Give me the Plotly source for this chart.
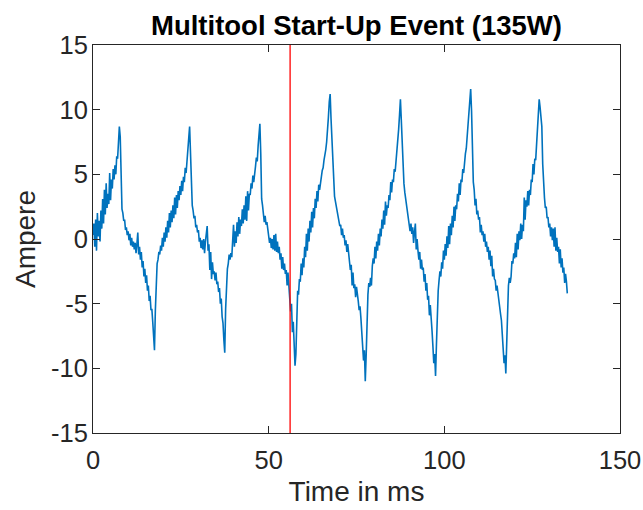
import plotly.graph_objects as go

# Sampled current, 0.25 ms per sample, grouped in 10 ms blocks
step_ms = 0.25
block_0 = [0.3, 1.2, -0.6, 1.5, -0.9, 2.0, 0.2, 1.4, -0.2, 2.2, 0.8, 3.1, 1.2, 3.8, 1.9, 4.3, 2.4, 3.5, 2.7, 5.1,
           3.0, 4.6, 3.9, 5.4, 4.6, 5.7, 5.0, 6.4, 6.2, 7.6, 8.7, 7.9, 4.0, 2.3, 2.0, 1.4, 1.5, 0.7, 0.9, 0.3]
block_10 = [0.6, -0.1, 0.4, -0.5, 0.1, -0.6, -0.2, -0.8, -0.3, -1.1, -0.4, 0.5, -1.2, -0.6, -1.6, -1.0, -2.2, -1.7, -2.9, -2.3,
            -3.4, -2.8, -4.0, -3.6, -4.8, -4.4, -5.5, -5.4, -6.4, -7.3, -8.6, -5.5, -2.4, -1.9, -1.6, -1.0, -1.2, -0.5, -0.9, 0.1]
block_20 = [-0.6, 0.5, -0.2, 0.9, 0.1, 1.4, 0.5, 2.0, 0.9, 2.2, 1.3, 2.6, 1.6, 3.2, 1.9, 3.4, 2.4, 3.7, 3.0, 4.1,
            3.4, 4.5, 3.7, 4.8, 4.4, 5.5, 5.1, 6.3, 6.5, 7.8, 8.7, 6.8, 3.4, 2.6, 2.2, 1.6, 1.8, 0.9, 1.1, 0.5]
block_30 = [0.7, -0.2, 0.1, -0.7, -0.1, -0.8, 0.0, -1.1, -0.2, 0.4, 1.0, -0.9, -0.4, -2.4, -1.0, -3.1, -1.8, -2.7, -2.5, -3.2,
            -2.6, -3.5, -3.3, -4.1, -3.8, -5.0, -4.6, -6.0, -6.5, -7.8, -8.8, -5.4, -2.8, -2.3, -1.9, -1.2, -1.6, -1.1, -1.4, -0.3]
block_40 = [1.1, -0.6, 0.6, -0.3, 1.3, 0.2, 1.7, 0.4, 1.5, 1.0, 2.3, 1.2, 2.6, 1.5, 3.3, 1.4, 3.7, 2.2, 3.5, 3.4,
            4.3, 3.9, 4.9, 4.4, 5.3, 5.6, 6.3, 6.0, 7.2, 8.0, 8.9, 6.6, 3.1, 2.6, 2.0, 1.3, 1.8, 1.1, 1.3, 0.6]
block_50 = [0.4, -0.3, 0.1, -0.7, 0.0, -0.8, 0.3, -0.9, 0.4, -1.0, -0.2, -1.1, -0.6, -1.6, -1.1, -2.3, -1.4, -2.4, -1.9, -2.7,
            -2.4, -3.6, -2.6, -3.8, -4.3, -5.6, -5.0, -7.2, -6.4, -8.6, -9.8, -8.9, -4.9, -4.0, -4.3, -3.1, -3.3, -1.9, -2.8, -1.5]
block_60 = [-2.2, -0.6, -1.4, 0.4, -0.9, 0.8, -0.2, 1.4, 0.5, 2.1, 0.9, 2.4, 1.6, 3.1, 2.4, 3.7, 2.9, 4.2, 3.8, 4.5,
            4.8, 5.3, 5.5, 6.1, 6.4, 6.9, 7.5, 8.3, 9.4, 10.6, 11.2, 9.3, 7.8, 5.2, 4.2, 3.3, 2.9, 2.5, 2.1, 1.6]
block_70 = [1.5, 1.0, 1.1, 0.3, 0.8, 0.1, 0.3, -0.5, -0.1, -1.0, -0.4, -1.2, -1.5, -2.4, -2.0, -3.6, -2.6, -3.8, -3.5, -4.5,
            -3.7, -4.6, -4.8, -5.5, -5.2, -6.1, -7.2, -8.4, -9.4, -8.6, -11.0, -9.0, -5.2, -4.3, -3.4, -3.7, -3.0, -3.6, -2.1, -1.5]
block_80 = [-1.9, -0.6, -1.5, -0.2, -0.9, 0.4, -0.5, 0.8, 0.2, 1.5, 0.8, 2.2, 1.1, 2.9, 1.8, 2.6, 2.4, 3.4, 3.0, 4.4,
            3.6, 4.6, 4.4, 5.4, 5.2, 6.0, 6.3, 7.4, 8.5, 9.6, 10.8, 9.2, 7.1, 5.2, 4.3, 3.6, 3.1, 2.7, 2.5, 1.8]
block_90 = [1.4, 0.6, 1.2, 0.4, 0.9, -0.3, 0.5, 1.2, -0.8, 0.0, -0.9, -1.6, -1.0, -2.3, -1.6, -2.4, -2.2, -3.3, -2.7, -4.0,
            -3.4, -4.7, -4.4, -5.9, -5.1, -6.8, -7.1, -8.3, -9.6, -8.9, -10.6, -8.2, -4.8, -4.0, -3.2, -2.5, -2.9, -1.8, -2.3, -0.9]
block_100 = [-1.6, -0.4, -1.3, 0.2, -0.7, 1.0, -0.4, 1.2, 0.3, 1.8, 0.9, 2.5, 1.4, 2.6, 2.3, 3.5, 2.9, 4.3, 3.4, 4.6,
             4.4, 5.4, 5.1, 6.0, 6.6, 7.0, 7.8, 8.9, 9.8, 10.6, 11.6, 9.9, 5.6, 4.4, 3.8, 2.6, 3.1, 1.9, 2.2, 1.5]
block_110 = [1.7, 0.5, 1.1, 0.3, 0.6, -0.2, 0.4, -0.6, -0.2, -1.0, -0.6, -1.6, -0.9, -2.1, -1.3, -2.9, -2.3, -3.1, -3.2, -4.0,
             -3.6, -4.2, -4.6, -5.7, -5.8, -6.3, -7.2, -8.3, -9.6, -9.0, -10.4, -8.1, -4.3, -3.6, -3.0, -3.4, -2.9, -1.7, -1.9, -1.1]
block_120 = [-1.5, -0.3, -1.4, 0.4, -0.8, 0.6, -0.1, 1.2, 0.0, 1.1, 0.6, 3.2, 1.5, 3.0, 2.5, 3.7, 2.6, 3.8, 3.4, 4.6,
             4.4, 5.8, 5.0, 6.2, 6.1, 7.4, 7.7, 8.9, 10.8, 10.2, 9.4, 8.7, 5.8, 4.0, 3.2, 2.4, 2.5, 1.6, 1.7, 0.9]
block_130 = [1.2, 0.2, 0.9, -0.1, 0.8, -0.6, 0.9, -0.9, 0.1, -1.0, -0.6, -1.9, -0.8, -2.2, -1.5, -2.6, -2.2, -3.4, -2.7, -3.3,
             -4.2]

current_a = (block_0 + block_10 + block_20 + block_30 + block_40 + block_50 + block_60
             + block_70 + block_80 + block_90 + block_100 + block_110 + block_120 + block_130)
time_ms = [i * step_ms for i in range(len(current_a))]

# Start-up event marker
event_ms = 56.1

x_ticks = [0, 50, 100, 150]
x_labels = ["0", "50", "100", "150"]
y_ticks = [-15, -10, -5, 0, 5, 10, 15]
y_labels = ["-15", "-10", "-5", "0", "5", "10", "15"]

font_family = "Liberation Sans, Arial, Helvetica, sans-serif"
axis_color = "#262626"

fig = go.Figure()
fig.add_trace(go.Scatter(
    x=time_ms, y=current_a, mode="lines",
    line=dict(color="#0072BD", width=1.6),
    showlegend=False,
))
fig.add_trace(go.Scatter(
    x=[event_ms, event_ms], y=[y_ticks[0], y_ticks[-1]], mode="lines",
    line=dict(color="#FF0000", width=1.3),
    showlegend=False,
))

axis_common = dict(
    showline=True, linecolor=axis_color, linewidth=1, mirror="ticks",
    ticks="inside", ticklen=7, tickwidth=1, tickcolor=axis_color,
    showgrid=False, zeroline=False, automargin=False,
    tickfont=dict(family=font_family, size=25.5, color=axis_color),
)

fig.update_layout(
    width=643, height=510,
    margin=dict(l=93, r=23, t=45, b=77),
    paper_bgcolor="white", plot_bgcolor="white",
    title=dict(
        text="<b>Multitool Start-Up Event (135W)</b>",
        font=dict(family=font_family, size=27.5, color="black"),
        x=0.5, xref="paper", xanchor="center",
        y=1, yref="paper", yanchor="bottom", pad=dict(b=10),
    ),
    xaxis=dict(
        range=[0, 150], tickvals=x_ticks, ticktext=x_labels, ticklabelstandoff=4,
        title=dict(text="Time in ms", font=dict(family=font_family, size=28, color=axis_color), standoff=8),
        **axis_common,
    ),
    yaxis=dict(
        range=[-15, 15], tickvals=y_ticks, ticktext=y_labels, ticklabelstandoff=-1,
        title=dict(text="Ampere", font=dict(family=font_family, size=28, color=axis_color), standoff=7),
        **axis_common,
    ),
)

fig.write_html("out.html")
